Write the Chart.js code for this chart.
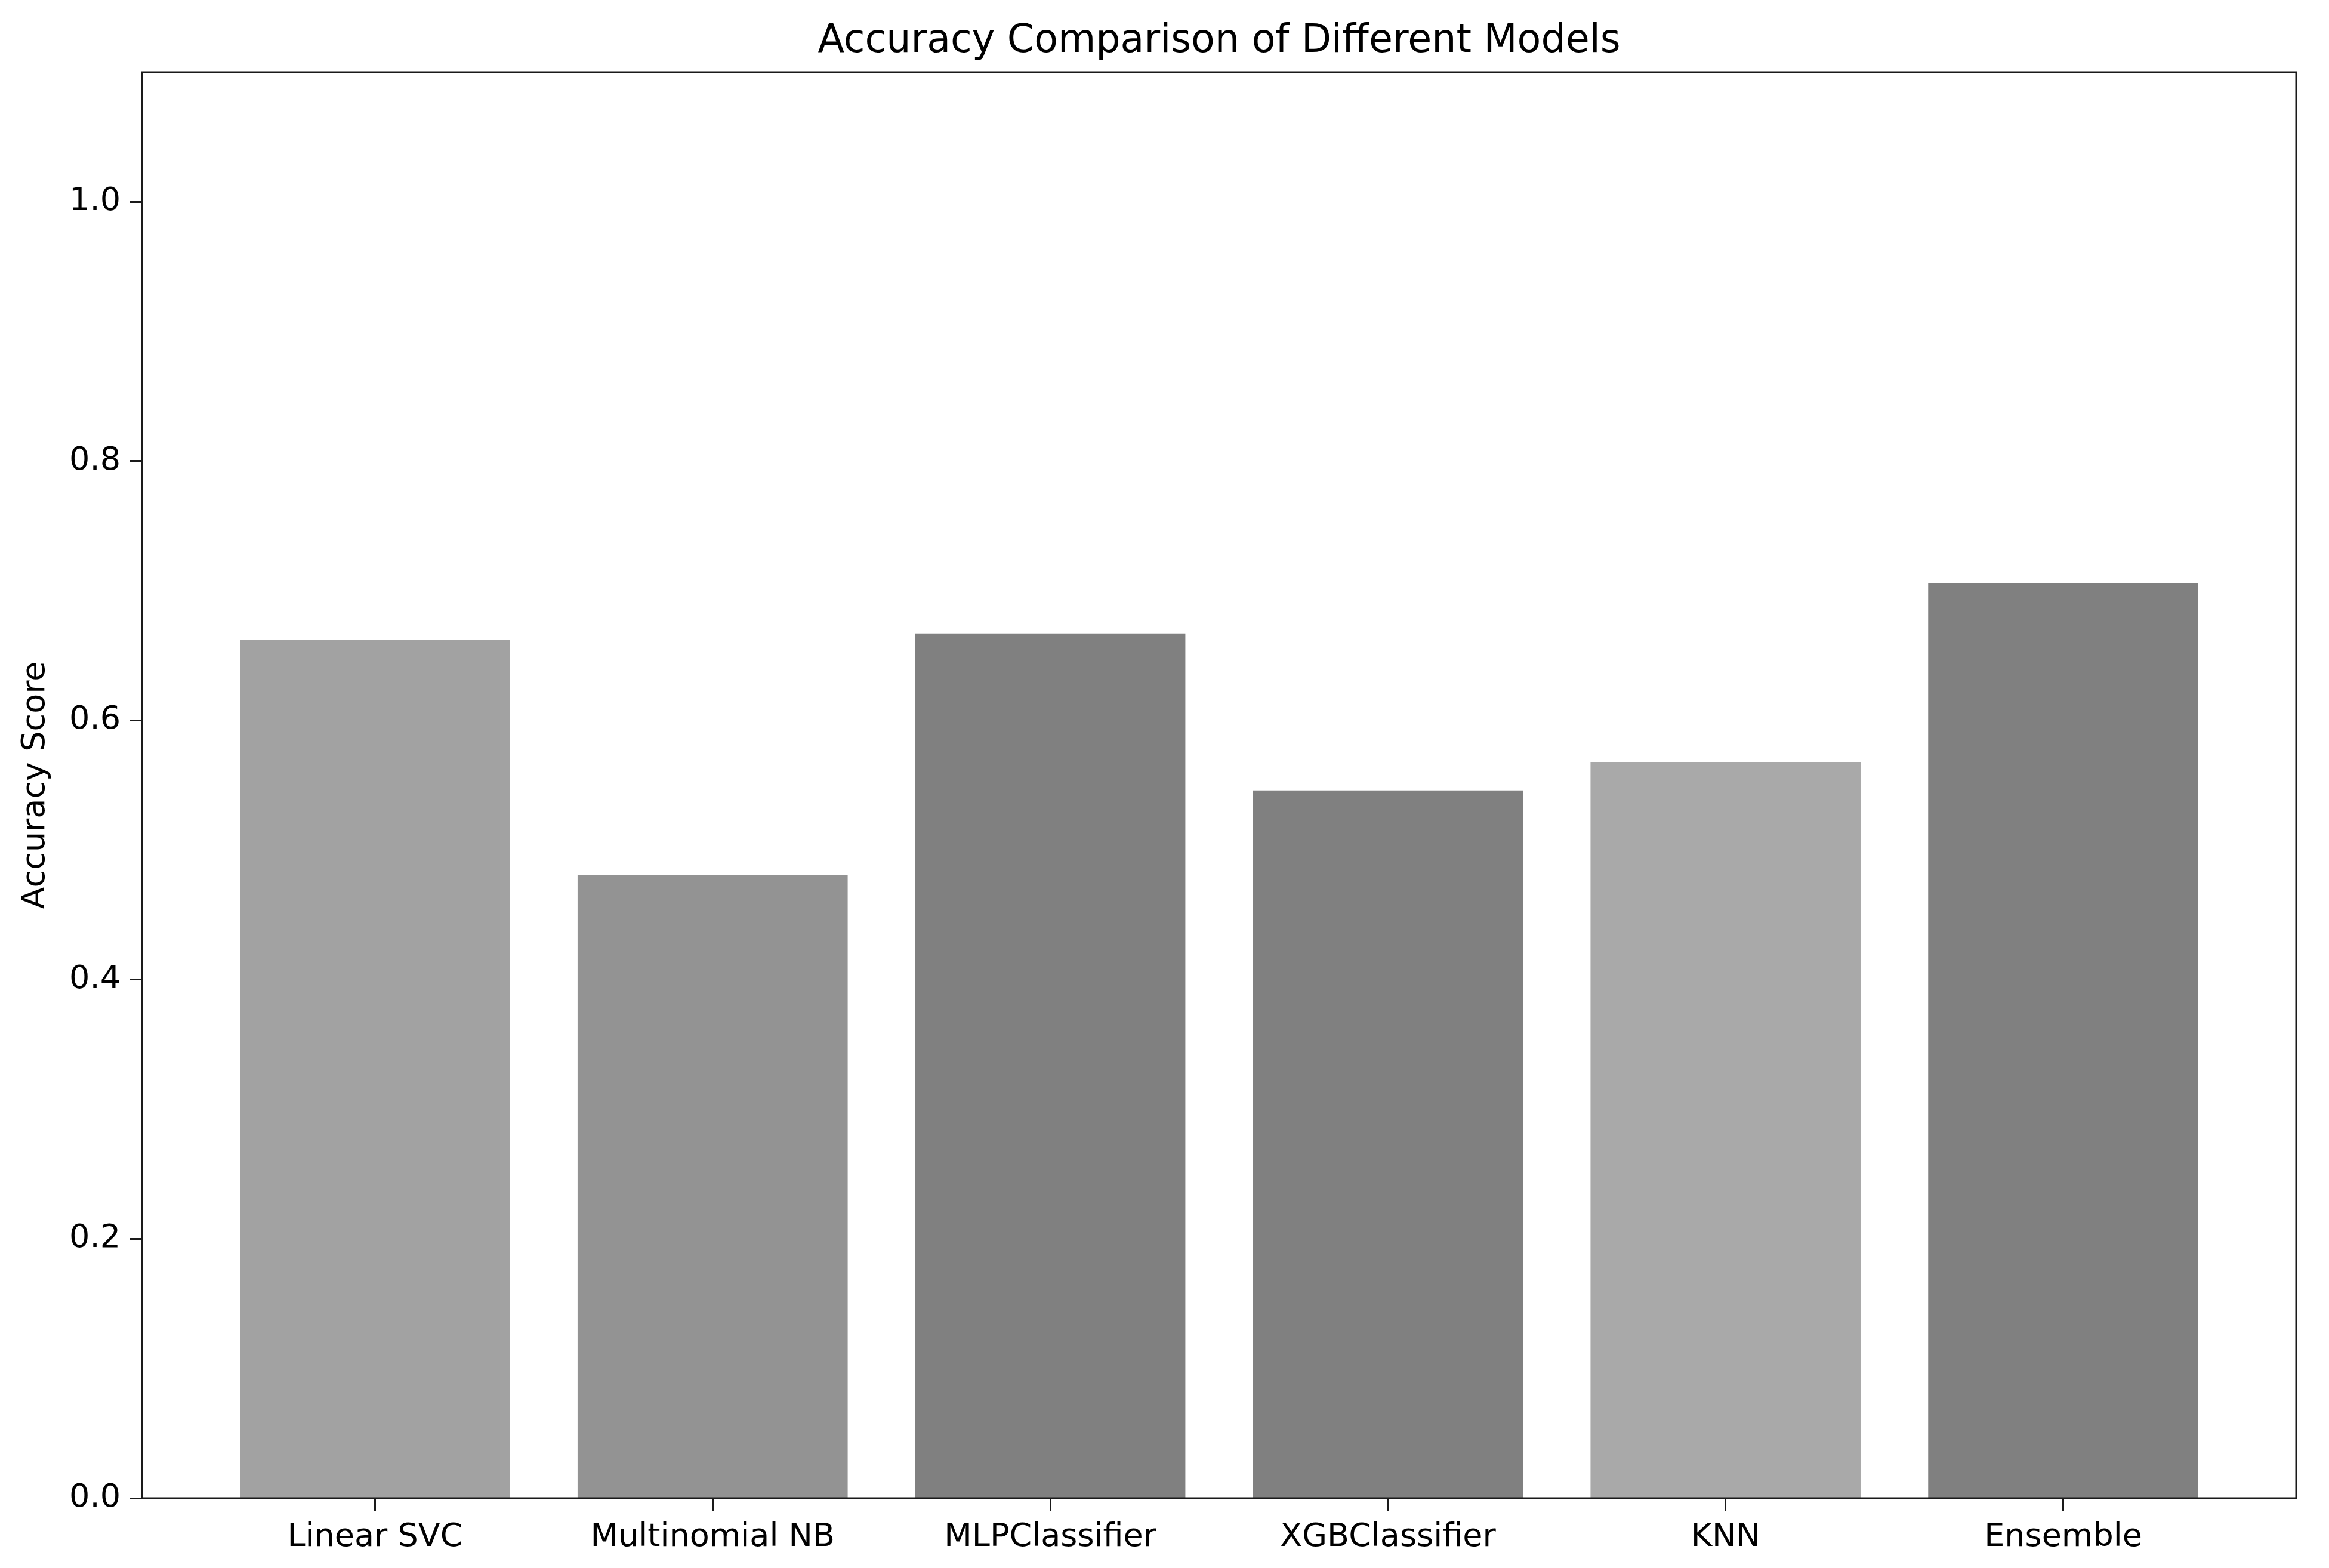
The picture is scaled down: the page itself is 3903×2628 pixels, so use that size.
<!DOCTYPE html>
<html>
<head>
<meta charset="utf-8">
<script src="https://cdn.jsdelivr.net/npm/chart.js@4/dist/chart.umd.min.js"></script>
<style>
  html, body { margin: 0; padding: 0; background: #fff; }
  canvas { display: block; }
</style>
</head>
<body>
<canvas id="acc-chart" width="3903" height="2628"></canvas>
<script>
var models = ['Linear SVC', 'Multinomial NB', 'MLPClassifier', 'XGBClassifier', 'KNN', 'Ensemble'];
var accuracy = [0.662, 0.481, 0.667, 0.546, 0.568, 0.706];
var barColors = ['#a2a2a2', '#939393', '#808080', '#808080', '#a9a9a9', '#808080'];
var yTicks = [0.0, 0.2, 0.4, 0.6, 0.8, 1.0];
var chartTitle = 'Accuracy Comparison of Different Models';

// top and right spines like matplotlib, plus the title centred over the axes
var frame = {
    id: 'frame',
    afterDraw: function (chart) {
        var a = chart.chartArea, c = chart.ctx;
        c.save();
        c.strokeStyle = '#1a1a1a';
        c.lineWidth = 3;
        c.strokeRect(a.left, a.top, a.right - a.left, a.bottom - a.top);
        c.fillStyle = '#000';
        c.font = '65px "DejaVu Sans"';
        c.textAlign = 'center';
        c.textBaseline = 'middle';
        c.fillText(chartTitle, (a.left + a.right) / 2, 70);
        c.restore();
    }
};

var ctx = document.getElementById('acc-chart').getContext('2d');
var chart = new Chart(ctx, {
    type: 'bar',
    data: {
        datasets: [{
            label: 'Accuracy Score',
            data: models.map(function (m, i) { return { x: i, y: accuracy[i] }; }),
            backgroundColor: barColors,
            borderWidth: 0,
            barPercentage: 0.8,
            categoryPercentage: 1.0
        }]
    },
    options: {
        responsive: false,
        devicePixelRatio: 1,
        animation: false,
        layout: { padding: { left: 0, right: 55, top: 121, bottom: 0 } },
        plugins: {
            legend: { display: false },
            tooltip: { enabled: false },
            title: { display: false }
        },
        scales: {
            x: {
                type: 'linear',
                min: -0.69,
                max: 5.69,
                offset: false,
                afterBuildTicks: function (scale) {
                    scale.ticks = models.map(function (m, i) { return { value: i }; });
                },
                afterFit: function (scale) { scale.height = 117; },
                ticks: {
                    color: '#000',
                    font: { family: 'DejaVu Sans', size: 54 },
                    padding: 12,
                    maxRotation: 0,
                    autoSkip: false,
                    callback: function (v) { return models[v]; }
                },
                grid: { offset: false, drawOnChartArea: false, drawTicks: true, tickLength: 22, tickWidth: 3, tickColor: '#1a1a1a' },
                border: { display: true, color: '#1a1a1a', width: 3 }
            },
            y: {
                min: 0,
                max: 1.1,
                afterBuildTicks: function (scale) {
                    scale.ticks = yTicks.map(function (v) { return { value: v }; });
                },
                afterFit: function (scale) { scale.width = 238; },
                ticks: {
                    color: '#000',
                    font: { family: 'DejaVu Sans', size: 54 },
                    padding: 16,
                    callback: function (v) { return v.toFixed(1); }
                },
                title: {
                    display: true,
                    text: 'Accuracy Score',
                    color: '#000',
                    font: { family: 'DejaVu Sans', size: 54 },
                    padding: { top: 28, bottom: 0 }
                },
                grid: { drawOnChartArea: false, drawTicks: true, tickLength: 20, tickWidth: 3, tickColor: '#1a1a1a' },
                border: { display: true, color: '#1a1a1a', width: 3 }
            }
        }
    },
    plugins: [frame]
});
</script>
</body>
</html>
